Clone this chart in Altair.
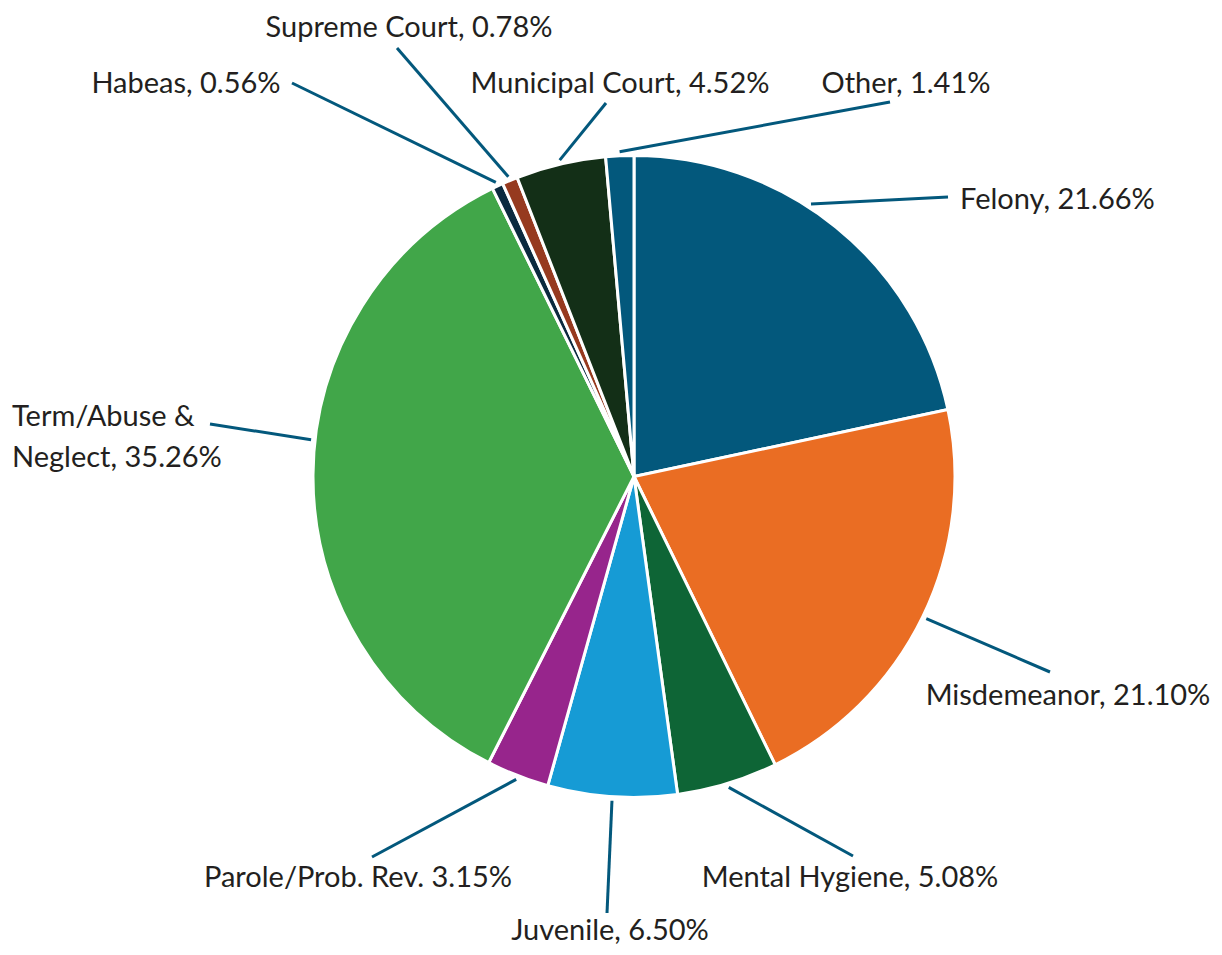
import math
import altair as alt
import pandas as pd

# ---- data ----
categories = ["Felony", "Misdemeanor", "Mental Hygiene", "Juvenile", "Parole/Prob. Rev.",
              "Term/Abuse & Neglect", "Habeas", "Supreme Court", "Municipal Court", "Other"]
values = [21.66, 21.10, 5.08, 6.50, 3.15, 35.26, 0.56, 0.78, 4.52, 1.41]
labels = ["Felony, 21.66%", "Misdemeanor, 21.10%", "Mental Hygiene, 5.08%", "Juvenile, 6.50%",
          "Parole/Prob. Rev. 3.15%", "Term/Abuse &\nNeglect, 35.26%", "Habeas, 0.56%",
          "Supreme Court, 0.78%", "Municipal Court, 4.52%", "Other, 1.41%"]
colors = ["#03587C", "#EA6D23", "#0E6536", "#169BD5", "#97258C",
          "#41A649", "#0B2A3F", "#963A1F", "#132F17", "#03587C"]

# ---- layout (pixels in chart space) ----
W, H = 1206, 939
CX, CY, R = 626, 468.5, 321
LEAD_R = 325
# leader angle overrides (degrees), otherwise slice mid-angle
lead_angle_override = {"Felony": 33, "Term/Abuse & Neglect": 276.5}
# leader end points and label anchors (page coords minus 8px margin)
lead_end = {
    "Felony": (940, 189), "Misdemeanor": (1042, 664), "Mental Hygiene": (845, 848),
    "Juvenile": (599, 905), "Parole/Prob. Rev.": (364, 849), "Term/Abuse & Neglect": (202, 416),
    "Habeas": (284, 75), "Supreme Court": (389, 40), "Municipal Court": (598, 95), "Other": (882, 94),
}
label_pos = {
    "Felony": (952, 201, "left"), "Misdemeanor": (1060, 697, "center"),
    "Mental Hygiene": (842, 879, "center"), "Juvenile": (602, 932, "center"),
    "Parole/Prob. Rev.": (350, 879, "center"), "Term/Abuse & Neglect": (4, 418, "left"),
    "Habeas": (178, 85, "center"), "Supreme Court": (401, 29, "center"),
    "Municipal Court": (612, 85, "center"), "Other": (898, 85, "center"),
}

total = sum(values)
rows, lines, texts = [], [], []
cum = 0.0
for i, (c, v, lab, col) in enumerate(zip(categories, values, labels, colors)):
    a0 = cum / total * 360
    cum += v
    a1 = cum / total * 360
    mid = lead_angle_override.get(c, (a0 + a1) / 2)
    rad = math.radians(mid)
    sx = CX + LEAD_R * math.sin(rad)
    sy = CY - LEAD_R * math.cos(rad)
    ex, ey = lead_end[c]
    rows.append({"cat": c, "value": v, "order": i})
    lines.append({"x": sx, "y": sy, "x2": ex, "y2": ey})
    lx, ly, al = label_pos[c]
    texts.append({"x": lx, "y": ly, "label": lab, "align": al})

df = pd.DataFrame(rows)
df_lines = pd.DataFrame(lines)
df_text = pd.DataFrame(texts)

xs = alt.Scale(domain=[0, W], nice=False, zero=False)
ys = alt.Scale(domain=[0, H], nice=False, zero=False, reverse=True)

pie = alt.Chart(df).mark_arc(outerRadius=R, stroke="white", strokeWidth=3).encode(
    theta=alt.Theta("value:Q", stack=True),
    color=alt.Color("cat:N", scale=alt.Scale(domain=categories, range=colors), legend=None),
    order=alt.Order("order:Q"),
    x=alt.value(CX),
    y=alt.value(CY),
)

leaders = alt.Chart(df_lines).mark_rule(color="#03587C", strokeWidth=3).encode(
    x=alt.X("x:Q", scale=xs, axis=None),
    y=alt.Y("y:Q", scale=ys, axis=None),
    x2="x2:Q",
    y2="y2:Q",
)

def text_layer(al):
    return alt.Chart(df_text[df_text["align"] == al]).mark_text(
        align=al, baseline="alphabetic", font="Lato", fontSize=29, color="#231F20",
        lineBreak="\n", lineHeight=41,
    ).encode(
        x=alt.X("x:Q", scale=xs, axis=None),
        y=alt.Y("y:Q", scale=ys, axis=None),
        text="label:N",
    )

chart = alt.layer(pie, leaders, text_layer("left"), text_layer("center")).properties(
    width=W, height=H, padding=0, autosize=alt.AutoSizeParams(type="none")
).configure_view(stroke=None)

chart.save("out.html", embed_options={"renderer": "svg", "actions": False})
